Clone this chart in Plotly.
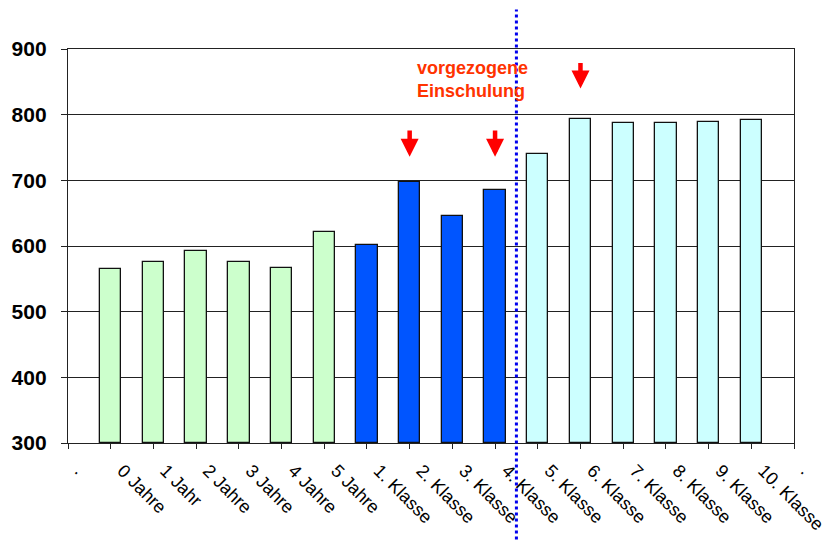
import plotly.graph_objects as go

# ---- data ----
tick_labels = [".", "0 Jahre", "1 Jahr", "2 Jahre", "3 Jahre", "4 Jahre", "5 Jahre",
               "1. Klasse", "2. Klasse", "3. Klasse", "4. Klasse", "5. Klasse",
               "6. Klasse", "7. Klasse", "8. Klasse", "9. Klasse", "10. Klasse", "."]
age_cats = ["0 Jahre", "1 Jahr", "2 Jahre", "3 Jahre", "4 Jahre", "5 Jahre"]
age_vals = [565, 576, 592, 576, 567, 622]
primary_cats = ["1. Klasse", "2. Klasse", "3. Klasse", "4. Klasse"]
primary_vals = [602, 698, 645, 685]
secondary_cats = ["5. Klasse", "6. Klasse", "7. Klasse", "8. Klasse", "9. Klasse", "10. Klasse"]
secondary_vals = [740, 794, 788, 787, 789, 792]
arrow_cats = ["2. Klasse", "4. Klasse", "6. Klasse"]
arrow_tops = [778, 778, 881]
arrow_tips = [736, 736, 840]
annotation_text = "vorgezogene<br>Einschulung"
y_base = 300

def pos(cat):
    return tick_labels.index(cat)

fig = go.Figure()
for cats, vals, color in [(age_cats, age_vals, "#CCFFCC"),
                          (primary_cats, primary_vals, "#0055FF"),
                          (secondary_cats, secondary_vals, "#CCFFFF")]:
    fig.add_trace(go.Bar(
        x=[pos(c) for c in cats], y=[v - y_base for v in vals], base=y_base,
        width=0.5,
        marker=dict(color=color, line=dict(color="#111111", width=1.3)),
        showlegend=False, customdata=vals, hovertemplate="%{customdata}<extra></extra>",
    ))

font_family = "Liberation Sans, Arial, sans-serif"

# page body has an 8px default margin, so the figure is 8px smaller each way
fig.update_layout(
    width=824, height=532,
    margin=dict(l=60, r=38, t=41, b=97),
    paper_bgcolor="white", plot_bgcolor="white",
    font=dict(family=font_family, color="black"),
    bargap=0,
    xaxis=dict(
        range=[0, 17], tickmode="array", automargin=False,
        tickvals=list(range(len(tick_labels))), ticktext=tick_labels,
        tickangle=45, tickfont=dict(size=18, family=font_family),
        ticklabelshift=12, ticklabelstandoff=4,
        ticks="outside", ticklen=5, tickcolor="#222", tickwidth=1.3,
        showline=True, linecolor="#222", linewidth=1.3, mirror=True,
        showgrid=False, zeroline=False,
    ),
    yaxis=dict(
        range=[300, 900], tickvals=[300, 400, 500, 600, 700, 800, 900],
        automargin=False,
        tickfont=dict(size=21, family=font_family, weight="bold"),
        ticks="outside", ticklen=6, tickcolor="#222", tickwidth=1.3,
        showline=True, linecolor="#222", linewidth=1.3, mirror=True,
        showgrid=True, gridcolor="#222", gridwidth=1.2, zeroline=False,
        ticklabelstandoff=10,
    ),
)

# dotted divider between 4. and 5. Klasse
div_x = (pos("4. Klasse") + pos("5. Klasse")) / 2
fig.add_shape(type="line", xref="x", yref="paper", x0=div_x, x1=div_x,
              y0=-0.26, y1=1.1, line=dict(color="#0000EE", width=3, dash="dot"))

# red arrows
for c, top, tip in zip(arrow_cats, arrow_tops, arrow_tips):
    fig.add_annotation(x=pos(c), y=tip, ax=pos(c), ay=top, axref="x", ayref="y",
                       xref="x", yref="y", text="", showarrow=True,
                       arrowhead=2, arrowsize=0.8, arrowwidth=4.5,
                       arrowcolor="#FF0000", standoff=0, startstandoff=0)

fig.add_annotation(x=pos("2. Klasse") + 0.12, y=853, xref="x", yref="y",
                   text=annotation_text, showarrow=False, xanchor="left",
                   yanchor="middle", align="left",
                   font=dict(size=18, color="#FF3300", family=font_family, weight="bold"))

fig.write_html("out.html")
